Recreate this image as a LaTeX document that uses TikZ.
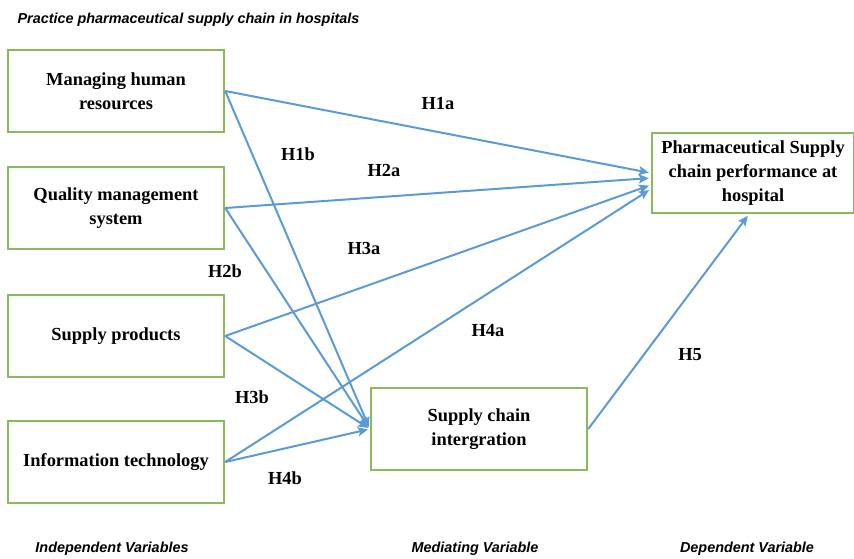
\documentclass[tikz,border=0pt]{standalone}
\usepackage{fontspec}
\setmainfont{Liberation Serif}
\setsansfont{Liberation Sans}
\usetikzlibrary{arrows,arrows.meta,positioning}
\definecolor{boxgreen}{RGB}{140,186,90}
\definecolor{linkblue}{RGB}{91,155,213}
\tikzstyle{link} = [draw = linkblue, line width = 1pt, ->]

\begin{document}
\begin{tikzpicture}[
            x = 0.5pt, y = -0.5pt, % one unit = one pixel of the original
            > = {Stealth[length = 5pt, width = 4.5pt, inset = 1pt]}, % arrow head style
            shorten > = 1pt, % don't touch arrow head to node
            semithick % line style
        ]

        \tikzstyle{var}=[
            draw = boxgreen,
            line width = 1.2pt,
            fill = white,
            align = center,
            minimum width = 108pt,
            minimum height = 41pt,
            font = \fontsize{9.2}{12}\selectfont\bfseries
        ]
        \tikzstyle{hyp}=[font = \fontsize{9.2}{12}\selectfont\bfseries]
        \tikzstyle{caption}=[inner sep = 0pt, font = \fontsize{7.2}{9}\selectfont\sffamily\bfseries\itshape]

        \useasboundingbox (0,0) rectangle (854,558);

        \node[caption, anchor = west] (title) at (17,20) {Practice pharmaceutical supply chain in hospitals};

        \node[var] (mhr) at (116,91) {Managing human\\resources};
        \node[var] (qms) at (116,208) {Quality management\\system};
        \node[var] (sp) at (116,336) {Supply products};
        \node[var] (it) at (116,462) {Information technology};
        \node[var] (sci) at (479,429) {Supply chain\\intergration};
        \node[var, minimum width = 101pt, minimum height = 40pt] (ph) at (753,173) {Pharmaceutical Supply\\chain performance at\\hospital};

        \draw[link] (mhr.east) -- ([yshift = 0pt]ph.west);
        \draw[link] (qms.east) -- ([yshift = -2.5pt]ph.west);
        \draw[link] (sp.east) -- ([yshift = -6pt]ph.west);
        \draw[link] (it.east) -- ([yshift = -8pt]ph.west);
        \draw[link] (mhr.east) -- (sci.west);
        \draw[link] (qms.east) -- (sci.west);
        \draw[link] (sp.east) -- (sci.west);
        \draw[link] (it.east) -- (sci.west);
        \draw[link] (sci.east) -- ([xshift = -2pt]ph.south);

        \node[hyp] (h1a) at (438,104) {H1a};
        \node[hyp] (h1b) at (298,154) {H1b};
        \node[hyp] (h2a) at (384,170) {H2a};
        \node[hyp] (h2b) at (225,271) {H2b};
        \node[hyp] (h3a) at (364,248) {H3a};
        \node[hyp] (h3b) at (252,397) {H3b};
        \node[hyp] (h4a) at (488,331) {H4a};
        \node[hyp] (h4b) at (285,478) {H4b};
        \node[hyp] (h5) at (690,355) {H5};

        \node[caption] (indep) at (112,549) {Independent Variables};
        \node[caption] (med) at (475,549) {Mediating Variable};
        \node[caption] (dep) at (747,549) {Dependent Variable};

    \end{tikzpicture}
\end{document}
